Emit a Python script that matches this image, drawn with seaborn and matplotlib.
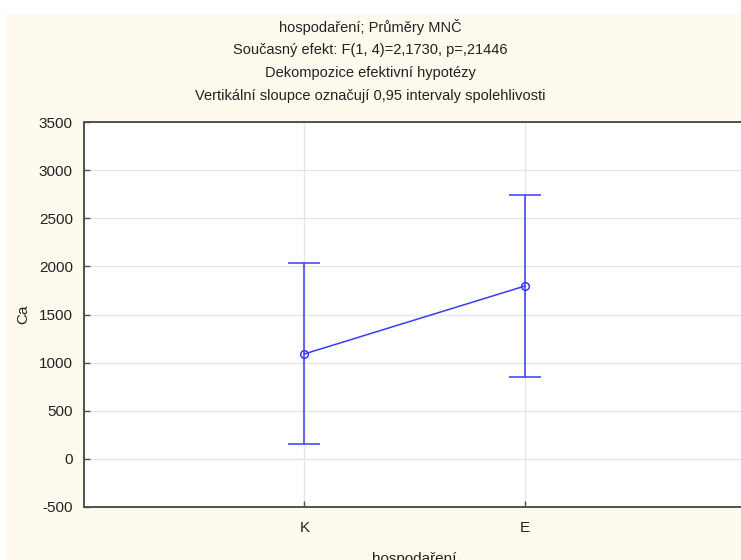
import matplotlib
matplotlib.use("Agg")
import matplotlib.pyplot as plt
from matplotlib.patches import Rectangle
import seaborn as sns
import pandas as pd

# Group means of Ca with 0.95 confidence limits
groups = ["K", "E"]
means = [1090, 1795]
ci_low = [150, 850]
ci_high = [2030, 2740]

y_ticks = [-500, 0, 500, 1000, 1500, 2000, 2500, 3000, 3500]

title_lines = [
    "hospodaření; Průměry MNČ",
    "Současný efekt: F(1, 4)=2,1730, p=,21446",
    "Dekompozice efektivní hypotézy",
    "Vertikální sloupce označují 0,95 intervaly spolehlivosti",
]

sns.set_theme(style="white")
plt.rcParams["font.family"] = ["Liberation Sans", "DejaVu Sans"]

W, H = 741, 560
fig = plt.figure(figsize=(W / 100, H / 100), dpi=100, facecolor="white")

panel = "#fffaee"
fig.patches.append(Rectangle((6 / W, 0), 1, 1 - 14 / H, transform=fig.transFigure,
                             facecolor=panel, edgecolor="none", zorder=-10))

left, right, top, bottom = 84, 745, 122, 507
ax = fig.add_axes([left / W, 1 - bottom / H, (right - left) / W, (bottom - top) / H])
ax.set_facecolor("white")

df = pd.DataFrame({"pos": range(len(groups)), "mean": means})
line_color = "#3a3aff"

ax.errorbar(df["pos"], df["mean"],
            yerr=[[m - lo for m, lo in zip(means, ci_low)],
                  [hi - m for m, hi in zip(means, ci_high)]],
            fmt="none", ecolor=line_color, elinewidth=1.1, capsize=11.5, capthick=1.1, zorder=3)
sns.lineplot(data=df, x="pos", y="mean", ax=ax, color=line_color, linewidth=1.1,
             marker="o", markersize=5.5, markerfacecolor="none",
             markeredgecolor=line_color, markeredgewidth=1.1, zorder=4)

ax.set_xlim(-1, 2)
ax.set_ylim(-500, 3500)
ax.set_xticks(range(len(groups)))
ax.set_xticklabels(groups)
ax.set_yticks(y_ticks)
ax.set_yticklabels([str(v) for v in y_ticks])

ax.grid(True, color="#e6e6e6", linewidth=1.0)
ax.set_axisbelow(True)

for side in ["left", "top", "bottom"]:
    ax.spines[side].set_visible(True)
    ax.spines[side].set_color("#505050")
    ax.spines[side].set_linewidth(1.4)
ax.spines["right"].set_visible(False)

ax.tick_params(axis="both", direction="in", length=4, width=1, color="#505050",
               labelsize=11, labelcolor="#222222", pad=8, left=True, bottom=True)
ax.tick_params(axis="x", pad=10)

ax.set_xlabel("hospodaření", fontsize=11, color="#222222", labelpad=12)
ax.set_ylabel("Ca", fontsize=11, color="#222222", labelpad=6)

for i, line in enumerate(title_lines):
    y_px = 27 + i * 23
    fig.text(370 / W, 1 - y_px / H, line, ha="center", va="center",
             fontsize=10.5, color="#222222")

fig.savefig("out.png", dpi=100, facecolor="white")
